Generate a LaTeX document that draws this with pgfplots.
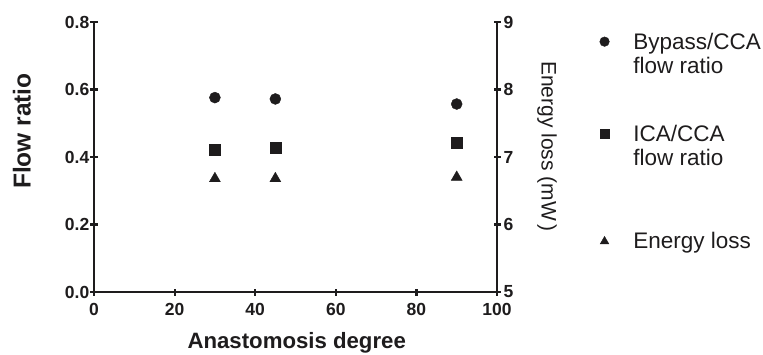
\documentclass[border=0pt]{standalone}
\usepackage{pgfplots}
\pgfplotsset{compat=1.18}
\usepackage{fontspec}
\setmainfont{Liberation Sans}
\definecolor{ink}{HTML}{1E1C1D}
\pgfplotstableread{
x bypass ica
30 0.576 0.423
45 0.572 0.427
90 0.557 0.442
}\flowdata
\pgfplotstableread{
x energy
30 6.68
45 6.68
90 6.70
}\energydata
\begin{document}
\begin{tikzpicture}
\useasboundingbox (0pt,0pt) rectangle (763pt,354pt);
\pgfplotsset{
  common/.style={
    at={(94pt,62pt)}, anchor=south west,
    scale only axis, width=403pt, height=270pt,
    xmin=0, xmax=100,
    tick align=outside, major tick length=7pt,
    every tick/.append style={line width=2.2pt, ink},
    major tick style={line width=2.2pt, ink},
    ticklabel style={font=\fontsize{17.5}{20}\selectfont\bfseries, text=ink},
    /pgf/number format/assume math mode=true,
    clip=false,
  },
  noarrows/.style={
    axis line style={-, line width=2.2pt, ink},
    every inner x axis line/.append style={-},
    every outer x axis line/.append style={-},
    every inner y axis line/.append style={-},
    every outer y axis line/.append style={-},
    x axis line style={-},
    y axis line style={-},
  }
}
\begin{axis}[common,
  ymin=0, ymax=0.8,
  axis x line=bottom, axis y line=left,
  noarrows,
  xtick={0,20,40,60,80,100},
  ytick={0,0.2,0.4,0.6,0.8},
  yticklabel style={/pgf/number format/fixed, /pgf/number format/fixed zerofill, /pgf/number format/precision=1, inner sep=1pt},
  xticklabel style={yshift=-4pt},
  every axis x label/.style={at={(axis description cs:0.503,-0.19)}, anchor=center,
     font=\fontsize{22.2}{26}\selectfont\bfseries, text=ink},
  every axis y label/.style={at={(axis description cs:-0.179,0.596)}, anchor=center, rotate=90,
     font=\fontsize{24.5}{26}\selectfont\bfseries, text=ink},
  xlabel={Anastomosis degree},
  ylabel={Flow ratio},
]
\addplot[only marks, mark=*, mark size=5.5pt, ink, mark options={fill=ink, draw=ink}] table[x=x, y=bypass] {\flowdata};
\addplot[only marks, mark=square*, mark size=5.5pt, ink, mark options={fill=ink, draw=ink}] table[x=x, y=ica] {\flowdata};
\end{axis}
\begin{axis}[common,
  ymin=5, ymax=9,
  axis x line=none, axis y line=right,
  noarrows,
  ytick={5,6,7,8,9},
  yticklabel style={inner sep=1pt, xshift=2pt},
  every axis y label/.style={at={(axis description cs:1.124,0.539)}, anchor=center, rotate=-90,
     font=\fontsize{21}{26}\selectfont, text=ink},
  ylabel={Energy loss (mW\,)},
  legend style={draw=none, fill=none, at={(axis description cs:1.247,0.978)}, anchor=north west,
     font=\fontsize{22.5}{25}\selectfont, text=ink, row sep=69pt,
     nodes={inner sep=2pt},
     /tikz/every odd column/.append style={column sep=22pt}},
  legend cell align=left,
]
\addlegendimage{only marks, mark=*, mark size=4.8pt, ink, mark options={fill=ink, draw=ink}}
\addlegendentry{\begin{tabular}[t]{@{}l@{}}Bypass/CCA\\[-1pt]flow ratio\end{tabular}}
\addlegendimage{only marks, mark=square*, mark size=4.5pt, ink, mark options={fill=ink, draw=ink}}
\addlegendentry{\begin{tabular}[t]{@{}l@{}}ICA/CCA\\[-1pt]flow ratio\end{tabular}}
\addlegendimage{only marks, mark=triangle*, mark size=5pt, ink, mark options={fill=ink, draw=ink, yshift=-8.5pt}}
\addlegendentry{\rule{0pt}{32pt}Energy loss}
\addplot[only marks, mark=triangle*, mark size=6.35pt, ink, mark options={fill=ink, draw=ink}, forget plot] table[x=x, y=energy] {\energydata};
\end{axis}
\end{tikzpicture}
\end{document}
